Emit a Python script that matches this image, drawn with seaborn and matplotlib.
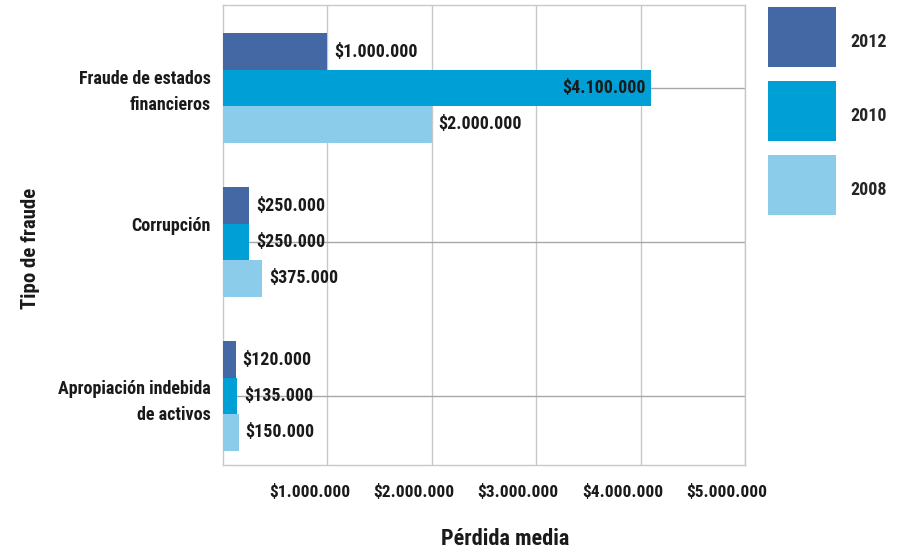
import matplotlib
matplotlib.use("Agg")
import matplotlib.pyplot as plt
from matplotlib import font_manager
from matplotlib.patches import Patch, Rectangle
from matplotlib.legend_handler import HandlerPatch
import matplotlib.transforms as mtransforms
import seaborn as sns
import pandas as pd

# Datos: pérdida media por tipo de fraude y año
tipos = ["Fraude de estados\nfinancieros", "Corrupción", "Apropiación indebida\nde activos"]
anios = ["2012", "2010", "2008"]
perdida_2012 = [1000000, 250000, 120000]
perdida_2010 = [4100000, 250000, 135000]
perdida_2008 = [2000000, 375000, 150000]
ticks_x = [1000000, 2000000, 3000000, 4000000, 5000000]

colores = ["#4368A3", "#00A0D7", "#8ACCEA"]

sns.set_style("white")

# Fuente estrecha si existe alguna instalada
nombres = {f.name for f in font_manager.fontManager.ttflist}
FAM = [n for n in ["Liberation Sans Narrow", "Roboto Condensed"] if n in nombres] + \
      ["Roboto", "DejaVu Sans"]
plt.rcParams["font.family"] = FAM
plt.rcParams["font.weight"] = "bold"
plt.rcParams["font.stretch"] = "condensed"

df = pd.DataFrame({
    "tipo": tipos * 3,
    "anio": [a for a in anios for _ in tipos],
    "perdida": perdida_2012 + perdida_2010 + perdida_2008,
})

fig = plt.figure(figsize=(9.04, 5.53), dpi=100)
ax = fig.add_axes([223 / 904, 1 - 465 / 553, (745 - 223) / 904, (465 - 5) / 553])

sns.barplot(data=df, y="tipo", x="perdida", hue="anio", hue_order=anios,
            order=tipos, palette=colores, orient="h", width=0.71,
            saturation=1, legend=False, ax=ax, zorder=3, linewidth=0,
            edgecolor="none")

ax.set_xlim(0, 5000000)
ax.set_ylim(2.448, -0.539)
ax.set_xticks(ticks_x)


def fmt(v):
    return "$" + f"{v:,.0f}".replace(",", ".")


ax.set_xticklabels([fmt(t) for t in ticks_x], fontsize=12.5, fontweight="bold",
                   color="#1a1a1a")
ax.set_yticks(range(len(tipos)))
ax.set_yticklabels(tipos, fontsize=13, fontweight="bold", color="#1a1a1a",
                   linespacing=1.55)

ax.tick_params(axis="y", length=7, color="#b0b0b0", pad=2)
ax.tick_params(axis="x", length=0, pad=13.5)

# desplazamientos finos de las etiquetas de los ejes
for lbl in ax.get_xticklabels():
    lbl.set_transform(lbl.get_transform() +
                      mtransforms.ScaledTranslation(-18 / 100, 0, fig.dpi_scale_trans))
y_shift = [-2, -18, 0]
for lbl, dy in zip(ax.get_yticklabels(), y_shift):
    lbl.set_transform(lbl.get_transform() +
                      mtransforms.ScaledTranslation(0, -dy / 100, fig.dpi_scale_trans))

ax.grid(axis="x", color="#c8c8c8", linewidth=1, zorder=0)
ax.grid(axis="y", color="#a8a8a8", linewidth=1, zorder=0)
ax.set_axisbelow(True)
for s in ax.spines.values():
    s.set_color("#c8c8c8")
    s.set_linewidth(1)

ax.set_xlabel("Pérdida media", fontsize=16, fontweight="bold", color="#1a1a1a")
ax.xaxis.set_label_coords((505 - 223) / 522, (465 - 528) / 460)
ax.set_ylabel("Tipo de fraude", fontsize=15, fontweight="bold", color="#1a1a1a")
ax.yaxis.set_label_coords(-(223 - 40) / 522, (465 - 248) / 460)

# Etiquetas de valor en cada barra
series = [perdida_2012, perdida_2010, perdida_2008]
for cont, vals in zip(ax.containers, series):
    for patch, v in zip(cont.patches, vals):
        yc = patch.get_y() + patch.get_height() / 2
        if v > 3500000:
            ax.annotate(fmt(v), (v, yc), xytext=(-4, 0), textcoords="offset points",
                        ha="right", va="center", fontsize=13, fontweight="bold",
                        color="#1a1a1a", zorder=5)
        else:
            ax.annotate(fmt(v), (v, yc), xytext=(5, 0), textcoords="offset points",
                        ha="left", va="center", fontsize=13, fontweight="bold",
                        color="#1a1a1a", zorder=5)


def cuadro(legend, orig_handle, xdescent, ydescent, width, height, fontsize):
    return Rectangle((-xdescent, -ydescent + 3.6), width, height)


handles = [Patch(facecolor=c, edgecolor="none") for c in colores]
fig.legend(handles, anios, loc="upper left",
           bbox_to_anchor=(768 / 904, 1 - 12 / 553),
           frameon=False, handlelength=3.77, handleheight=4.74,
           labelspacing=0.78, handletextpad=0.8, borderpad=0, borderaxespad=0,
           handler_map={Patch: HandlerPatch(patch_func=cuadro)},
           prop={"weight": "bold", "size": 13, "family": FAM, "stretch": "condensed"})

fig.savefig("out.png", dpi=100)
